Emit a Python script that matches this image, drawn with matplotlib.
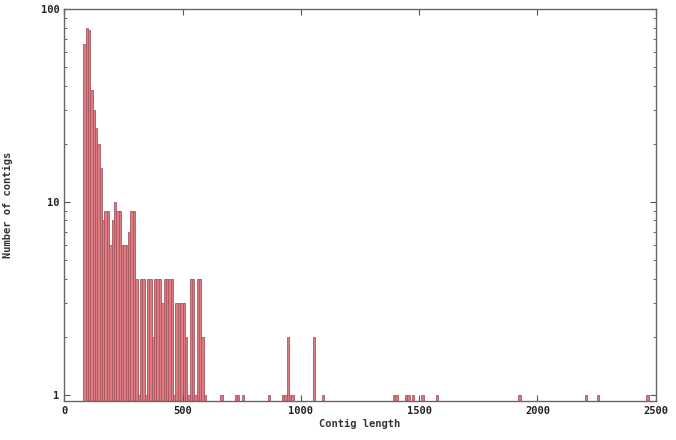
import matplotlib
matplotlib.use("Agg")
import matplotlib.pyplot as plt
from matplotlib.ticker import LogLocator, NullFormatter, FixedLocator

# histogram bins (left edge of each 10-long bin) and contig counts
bin_left = [80, 90, 100, 110, 120, 130, 140, 150, 160, 170, 180, 190, 200,
            210, 220, 230, 240, 250, 260, 270, 280, 290, 300, 310, 320, 330,
            340, 350, 360, 370, 380, 390, 400, 410, 420, 430, 440, 450, 460,
            470, 480, 490, 500, 510, 520, 530, 540, 550, 560, 570, 580, 590,
            660, 720, 730, 750, 860, 920, 930, 940, 950, 960, 1050, 1090,
            1390, 1400, 1440, 1450, 1470, 1510, 1570, 1920, 2200, 2250, 2460]
counts = [66, 80, 78, 38, 30, 24, 20, 15, 8, 9, 9, 6, 8,
          10, 9, 9, 6, 6, 6, 7, 9, 9, 4, 1, 4, 4,
          1, 4, 4, 2, 4, 4, 4, 3, 4, 4, 4, 4, 1,
          3, 3, 3, 3, 2, 1, 4, 4, 1, 4, 4, 2, 1,
          1, 1, 1, 1, 1, 1, 1, 2, 1, 1, 2, 1,
          1, 1, 1, 1, 1, 1, 1, 1, 1, 1, 1]
bin_width = 10

x_ticks = [0, 500, 1000, 1500, 2000, 2500]
y_ticks = [1, 10, 100]

plt.rcParams['font.family'] = ['DejaVu Sans Mono', 'DejaVu Sans']
plt.rcParams['font.weight'] = 'bold'

fig = plt.figure(figsize=(6.76, 4.4), dpi=100)
ax = fig.add_axes([0.095, 0.089, 0.875, 0.891])

ax.bar(bin_left, counts, width=bin_width, align='edge',
       color='#de7b82', edgecolor='#a8585f', linewidth=0.6)

ax.set_yscale('log')
ax.set_xlim(0, 2500)
ax.set_ylim(0.93, 100)

ax.xaxis.set_major_locator(FixedLocator(x_ticks))
ax.set_xticklabels([str(t) for t in x_ticks])
ax.yaxis.set_major_locator(FixedLocator(y_ticks))
ax.set_yticklabels([str(t) for t in y_ticks])
ax.yaxis.set_minor_locator(LogLocator(base=10, subs=range(2, 10)))
ax.yaxis.set_minor_formatter(NullFormatter())

ax.tick_params(which='both', direction='in', top=True, right=True,
               labelsize=7.5, colors='#555555', labelcolor='#222222')
ax.tick_params(which='major', length=4, width=0.8)
ax.tick_params(which='minor', length=2, width=0.6)
for s in ax.spines.values():
    s.set_color('#666666')
    s.set_linewidth(1.0)

ax.set_xlabel('Contig length', fontsize=7.5, fontweight='bold', color='#333333', labelpad=2)
ax.set_ylabel('Number of contigs', fontsize=7.5, fontweight='bold', color='#333333', labelpad=20)

fig.savefig('out.png', dpi=100)
